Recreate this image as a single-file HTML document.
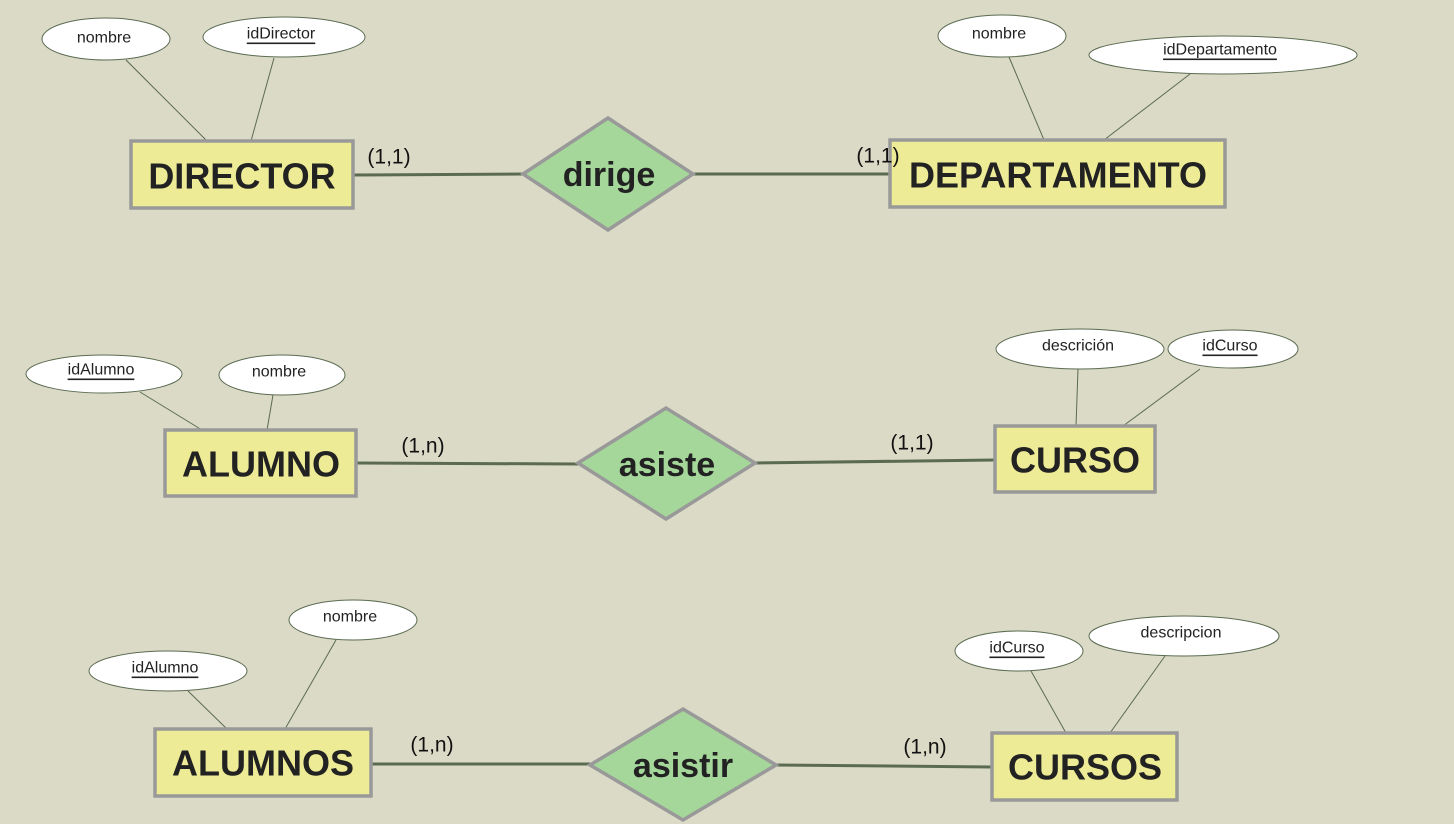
<!DOCTYPE html>
<html><head><meta charset="utf-8"><style>
html,body{margin:0;padding:0;background:#dbdac6;}
svg{display:block;}
.ent{fill:#eeeb96;stroke:#999;stroke-width:3.5;}
.rel{fill:#a5d69a;stroke:#999;stroke-width:3.5;}
.link{stroke:#5b6b52;stroke-width:3;fill:none;}
.al{stroke:#5b6b52;stroke-width:1;fill:none;}
.att{fill:#fff;stroke:#5b6b52;stroke-width:1;}
.et{font-family:"Liberation Sans",sans-serif;font-weight:bold;font-size:36px;fill:#222;text-anchor:middle;dominant-baseline:central;}
.rt{font-family:"Liberation Sans",sans-serif;font-weight:bold;font-size:34px;fill:#222;text-anchor:middle;dominant-baseline:central;}
.at{font-family:"Liberation Sans",sans-serif;font-size:16px;fill:#222;text-anchor:middle;dominant-baseline:central;}
.key{text-decoration:underline;}
.card{font-family:"Liberation Sans",sans-serif;font-size:21px;fill:#111;text-anchor:middle;dominant-baseline:central;}
</style></head><body>
<svg width="1454" height="824" viewBox="0 0 1454 824">
<rect width="1454" height="824" fill="#dbdac6"/>

<!-- Row 1 -->
<g>
<line class="al" x1="126" y1="60" x2="207" y2="141"/><line class="al" x1="274" y1="58" x2="251" y2="141"/>
<line class="al" x1="1009" y1="57" x2="1044" y2="140"/><line class="al" x1="1190" y1="74" x2="1104" y2="140"/>
</g>
<line class="link" x1="353" y1="175" x2="523" y2="174"/>
<line class="link" x1="693" y1="174" x2="890" y2="174"/>
<g><ellipse class="att" cx="106" cy="39" rx="64" ry="21"/><text class="at" x="104" y="38">nombre</text></g>
<g><ellipse class="att" cx="284" cy="37" rx="81" ry="20"/><text class="at key" x="281" y="34">idDirector</text></g>
<g><ellipse class="att" cx="1002" cy="36" rx="64" ry="21"/><text class="at" x="999" y="34">nombre</text></g>
<g><ellipse class="att" cx="1223" cy="55" rx="134" ry="19"/><text class="at key" x="1220" y="50">idDepartamento</text></g>
<g><rect class="ent" x="131" y="141" width="222" height="67"/><text class="et" x="242" y="176">DIRECTOR</text></g>
<g><rect class="ent" x="890" y="140" width="335" height="67"/><text class="et" x="1058" y="175">DEPARTAMENTO</text></g>
<g><polygon class="rel" points="523,174 608,118 693,174 608,230"/><text class="rt" x="609" y="175">dirige</text></g>
<text class="card" x="389" y="157">(1,1)</text>
<text class="card" x="878" y="156">(1,1)</text>

<!-- Row 2 -->
<g>
<line class="al" x1="140" y1="392" x2="202" y2="430"/><line class="al" x1="273" y1="395" x2="267" y2="430"/>
<line class="al" x1="1078" y1="369" x2="1076" y2="426"/><line class="al" x1="1200" y1="369" x2="1123" y2="426"/>
</g>
<line class="link" x1="356" y1="463" x2="578" y2="464"/>
<line class="link" x1="755" y1="463" x2="995" y2="460"/>
<g><ellipse class="att" cx="104" cy="374" rx="78" ry="19"/><text class="at key" x="101" y="370">idAlumno</text></g>
<g><ellipse class="att" cx="282" cy="375" rx="63" ry="20"/><text class="at" x="279" y="372">nombre</text></g>
<g><ellipse class="att" cx="1080" cy="349" rx="84" ry="20"/><text class="at" x="1078" y="346">descrición</text></g>
<g><ellipse class="att" cx="1233" cy="349" rx="65" ry="19"/><text class="at key" x="1230" y="346">idCurso</text></g>
<g><rect class="ent" x="165" y="430" width="191" height="66"/><text class="et" x="261" y="464">ALUMNO</text></g>
<g><rect class="ent" x="995" y="426" width="160" height="66"/><text class="et" x="1075" y="460">CURSO</text></g>
<g><polygon class="rel" points="578,463 666,408 755,463 666,519"/><text class="rt" x="667" y="465">asiste</text></g>
<text class="card" x="423" y="446">(1,n)</text>
<text class="card" x="912" y="443">(1,1)</text>

<!-- Row 3 -->
<g>
<line class="al" x1="188" y1="691" x2="227" y2="729"/><line class="al" x1="336" y1="640" x2="285" y2="729"/>
<line class="al" x1="1031" y1="671" x2="1066" y2="733"/><line class="al" x1="1165" y1="656" x2="1110" y2="733"/>
</g>
<line class="link" x1="371" y1="764" x2="590" y2="764"/>
<line class="link" x1="776" y1="765" x2="992" y2="767"/>
<g><ellipse class="att" cx="353" cy="620" rx="64" ry="20"/><text class="at" x="350" y="617">nombre</text></g>
<g><ellipse class="att" cx="168" cy="671" rx="79" ry="20"/><text class="at key" x="165" y="668">idAlumno</text></g>
<g><ellipse class="att" cx="1019" cy="651" rx="64" ry="20"/><text class="at key" x="1017" y="648">idCurso</text></g>
<g><ellipse class="att" cx="1184" cy="636" rx="95" ry="20"/><text class="at" x="1181" y="633">descripcion</text></g>
<g><rect class="ent" x="155" y="729" width="216" height="67"/><text class="et" x="263" y="763">ALUMNOS</text></g>
<g><rect class="ent" x="992" y="733" width="185" height="67"/><text class="et" x="1085" y="767">CURSOS</text></g>
<g><polygon class="rel" points="590,765 683,709 776,765 683,820"/><text class="rt" x="683" y="766">asistir</text></g>
<text class="card" x="432" y="745">(1,n)</text>
<text class="card" x="925" y="747">(1,n)</text>
</svg>
</body></html>
